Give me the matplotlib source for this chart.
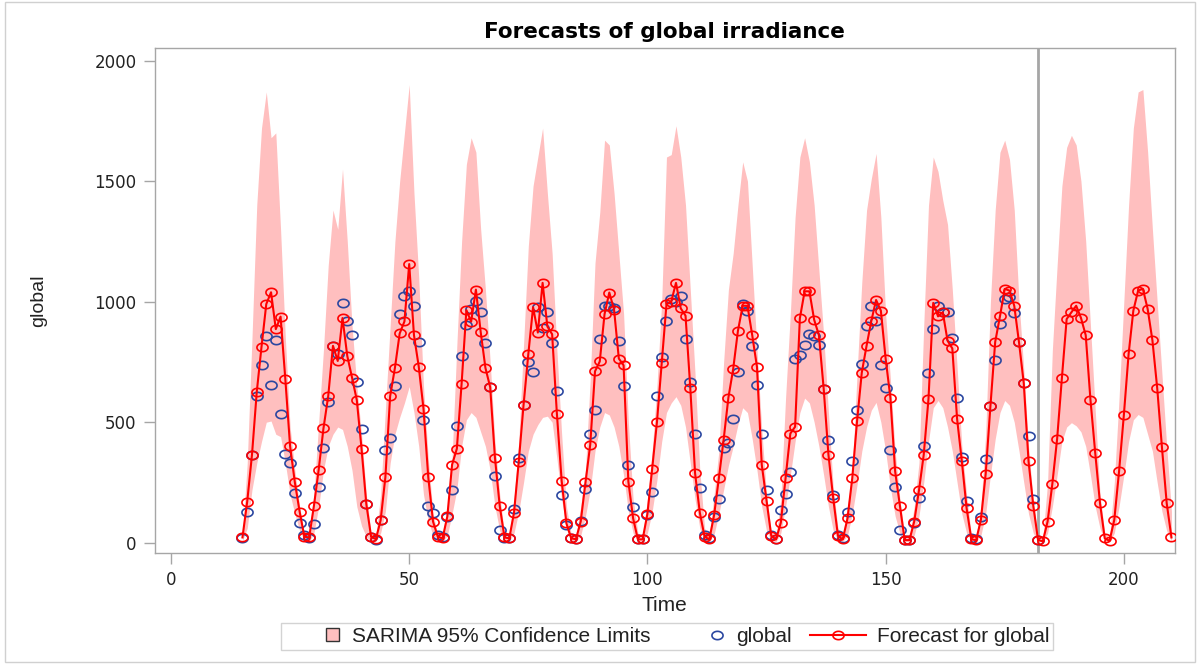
import numpy as np
import matplotlib
matplotlib.use('Agg')
import matplotlib.pyplot as plt
from matplotlib.patches import Patch, Rectangle
from matplotlib.lines import Line2D
from matplotlib.path import Path
from matplotlib.legend_handler import HandlerPatch, HandlerLine2D

# Time index of the forecast series (one point per step)
t_start, t_end = 15, 210
t_last_obs = 182

# One-step-ahead forecasts and multi-step forecasts, t = 15..210
forecast = [
    22, 171, 365, 625, 813, 990, 1039, 886, 938, 678, 400, 250, 129, 25,
    22, 153, 303, 474, 608, 817, 754, 932, 775, 685, 592, 389, 160, 25,
    15, 93, 272, 608, 725, 868, 918, 1156, 861, 731, 556, 272, 88, 25,
    18, 109, 324, 390, 660, 965, 917, 1050, 875, 725, 645, 352, 153, 22,
    18, 125, 337, 571, 782, 977, 872, 1078, 897, 865, 535, 257, 80, 18,
    15, 88, 250, 407, 711, 752, 948, 1038, 967, 764, 736, 254, 101, 14,
    14, 120, 307, 500, 745, 989, 1000, 1078, 972, 942, 643, 289, 125, 25,
    14, 115, 268, 428, 602, 720, 879, 983, 983, 861, 729, 324, 175, 28,
    14, 83, 268, 453, 481, 931, 1043, 1043, 925, 861, 639, 365, 185, 28,
    14, 101, 268, 504, 706, 817, 920, 1007, 963, 764, 602, 296, 153, 11,
    11, 88, 217, 365, 597, 995, 939, 956, 838, 806, 514, 338, 143, 14,
    11, 95, 285, 567, 833, 939, 1053, 1046, 983, 831, 661, 338, 153, 11,
    6, 88, 245, 431, 683, 928, 956, 983, 933, 861, 592, 372, 164, 18,
    8, 95, 296, 528, 782, 963, 1046, 1053, 970, 840, 643, 396, 164, 22,
]

# Observed global irradiance, t = 15..182
observed = [
    18, 128, 365, 608, 736, 856, 653, 840, 535, 370, 331, 208, 83, 32,
    18, 76, 233, 393, 583, 817, 782, 995, 918, 861, 667, 470, 161, 25,
    11, 95, 383, 435, 650, 950, 1022, 1043, 983, 831, 509, 153, 122, 32,
    25, 108, 217, 486, 775, 903, 970, 1004, 956, 827, 647, 278, 53, 18,
    20, 140, 351, 570, 750, 708, 977, 889, 956, 827, 629, 199, 74, 18,
    14, 90, 222, 453, 550, 845, 983, 983, 975, 838, 650, 324, 147, 14,
    14, 115, 210, 608, 772, 920, 1011, 997, 1025, 845, 667, 453, 226, 32,
    18, 108, 181, 393, 414, 514, 708, 990, 963, 817, 653, 453, 219, 32,
    14, 136, 203, 292, 764, 780, 820, 865, 856, 820, 639, 428, 199, 32,
    18, 129, 338, 550, 740, 900, 981, 920, 736, 643, 383, 233, 53, 11,
    11, 80, 185, 400, 706, 886, 983, 958, 956, 851, 602, 354, 175, 18,
    14, 105, 347, 567, 758, 907, 1011, 1018, 953, 831, 661, 442, 181, 11,
]

# 95% confidence limits, t = 15..210
upper_95 = [
    30, 330, 850, 1400, 1720, 1870, 1680, 1700, 1300, 850, 480, 300, 150, 30,
    40, 200, 500, 800, 1150, 1380, 1300, 1550, 1250, 900, 650, 450, 200, 40,
    30, 200, 550, 900, 1250, 1500, 1700, 1900, 1450, 1100, 650, 350, 120, 35,
    30, 150, 350, 820, 1250, 1570, 1680, 1620, 1300, 1050, 750, 420, 200, 35,
    30, 180, 420, 820, 1230, 1480, 1600, 1720, 1450, 1200, 800, 450, 150, 35,
    30, 150, 300, 680, 1160, 1370, 1670, 1650, 1450, 1200, 950, 500, 180, 40,
    30, 180, 380, 650, 1000, 1600, 1610, 1730, 1600, 1400, 1050, 700, 300, 60,
    30, 200, 380, 750, 1050, 1200, 1400, 1580, 1500, 1150, 800, 470, 200, 45,
    30, 180, 600, 950, 1350, 1600, 1680, 1580, 1400, 1130, 860, 540, 230, 60,
    30, 150, 290, 700, 1080, 1380, 1510, 1615, 1350, 950, 680, 380, 180, 30,
    25, 150, 330, 900, 1400, 1600, 1540, 1420, 1320, 1050, 730, 400, 200, 30,
    25, 150, 450, 1000, 1380, 1620, 1670, 1590, 1380, 1000, 720, 400, 170, 25,
    20, 250, 800, 1150, 1480, 1640, 1690, 1650, 1500, 1250, 900, 550, 200, 40,
    20, 250, 600, 1000, 1400, 1720, 1870, 1880, 1620, 1300, 1000, 700, 400, 130,
]
lower_95 = [
    8, 60, 220, 330, 420, 500, 505, 450, 440, 330, 200, 120, 50, 8,
    5, 40, 150, 300, 400, 450, 480, 470, 400, 300, 150, 70, 25, 6,
    5, 40, 130, 330, 450, 520, 580, 648, 540, 400, 200, 90, 30, 8,
    5, 30, 120, 220, 400, 510, 540, 520, 460, 400, 300, 150, 50, 8,
    5, 40, 130, 250, 380, 450, 490, 520, 525, 500, 350, 180, 60, 8,
    5, 30, 110, 220, 380, 480, 540, 530, 480, 400, 280, 130, 40, 6,
    5, 40, 130, 260, 420, 540, 580, 606, 570, 480, 330, 180, 60, 10,
    5, 35, 120, 220, 320, 400, 490, 560, 540, 430, 300, 150, 50, 8,
    5, 40, 150, 280, 420, 540, 600, 580, 500, 400, 280, 150, 50, 8,
    5, 30, 120, 240, 380, 480, 550, 582, 500, 380, 230, 110, 40, 5,
    4, 30, 110, 250, 420, 560, 590, 560, 480, 380, 250, 120, 40, 6,
    4, 30, 120, 280, 430, 540, 590, 570, 500, 380, 250, 120, 40, 5,
    3, 40, 150, 280, 420, 480, 498, 485, 460, 400, 280, 150, 60, 8,
    3, 40, 150, 280, 420, 510, 532, 520, 450, 380, 250, 130, 50, 8,
]

x_ticks = [0, 50, 100, 150, 200]
y_ticks = [0, 500, 1000, 1500, 2000]

t_fc = np.arange(t_start, t_end + 1)
t_obs = np.arange(t_start, t_last_obs + 1)

band_clr = '#ffbfbf'
fc_clr = '#ff0000'
obs_clr = '#2a46a0'
axis_clr = '#a6a6a6'
text_clr = '#222222'

# Slightly wide ellipse, as the markers look in the original output
theta = np.linspace(0, 2 * np.pi, 41)
ellipse = Path(np.column_stack([np.cos(theta), 0.75 * np.sin(theta)]), closed=True)

plt.rcParams['font.family'] = ['Liberation Sans', 'DejaVu Sans']

fig, ax = plt.subplots(figsize=(12, 6.64), dpi=100)
fig.subplots_adjust(left=0.129, right=0.979, bottom=0.167, top=0.928)

# Confidence band first, then forecasts and observations on top
ax.fill_between(t_fc, lower_95, upper_95, color=band_clr, linewidth=0, zorder=1)
ax.plot(t_fc, forecast, color=fc_clr, linewidth=1.5, marker=ellipse, markersize=8,
        markerfacecolor='none', markeredgecolor=fc_clr, markeredgewidth=1.2, zorder=3)
ax.plot(t_obs, observed, linestyle='none', marker=ellipse, markersize=8,
        markerfacecolor='none', markeredgecolor=obs_clr, markeredgewidth=1.2, zorder=2)

# Start of the forecast horizon
ax.axvline(t_last_obs, color=axis_clr, linewidth=2, zorder=0.5)

ax.set_xlim(-3.4, 210.7)
ax.set_ylim(-43, 2053)
ax.set_xticks(x_ticks)
ax.set_yticks(y_ticks)
ax.tick_params(direction='out', length=8, width=1, color=axis_clr, labelcolor=text_clr, pad=5)
for lbl in ax.get_xticklabels() + ax.get_yticklabels():
    lbl.set_family('DejaVu Sans')
    lbl.set_fontsize(12)

for s in ax.spines.values():
    s.set_color(axis_clr)
    s.set_linewidth(1)

ax.set_title('Forecasts of global irradiance', fontsize=15.5, fontweight='bold',
             family='DejaVu Sans', pad=7, color='#000000')
ax.set_xlabel('Time', fontsize=15, color=text_clr, labelpad=5)
ax.set_ylabel('global', fontsize=14, color=text_clr, labelpad=34)


def square_patch(legend, orig_handle, xdescent, ydescent, width, height, fontsize):
    side = height * 0.85
    return Rectangle((width - xdescent - side - 2, -ydescent + (height - side) / 2), side, side)


class RightMarker(HandlerLine2D):
    def get_xdata(self, legend, xdescent, ydescent, width, height, fontsize):
        xm = width - xdescent - 6
        return [xm, xm], [xm]


handles = [
    Patch(facecolor=band_clr, edgecolor='#333333', linewidth=1),
    Line2D([], [], linestyle='none', marker=ellipse, markersize=8, markerfacecolor='none',
           markeredgecolor=obs_clr, markeredgewidth=1.2),
    Line2D([], [], color=fc_clr, linewidth=1.5, marker=ellipse, markersize=8,
           markerfacecolor='none', markeredgecolor=fc_clr, markeredgewidth=1.2),
]
labels = ['SARIMA 95% Confidence Limits', 'global', 'Forecast for global']
leg = fig.legend(handles, labels, loc='lower center', bbox_to_anchor=(0.556, 0.021), ncol=3,
                 frameon=True, fancybox=False, edgecolor='#c8c8c8', borderaxespad=0,
                 prop={'size': 15}, handlelength=2.7, columnspacing=0.9,
                 handletextpad=0.5, borderpad=0.2,
                 handler_map={handles[0]: HandlerPatch(patch_func=square_patch),
                              handles[1]: RightMarker()})
for txt in leg.get_texts():
    txt.set_color(text_clr)

# Light border around the whole picture
fig.patches.append(Rectangle((0.004, 0.003), 0.992, 0.994, transform=fig.transFigure,
                             fill=False, edgecolor='#d0d0d0', linewidth=1))

fig.savefig('out.png', dpi=100)
